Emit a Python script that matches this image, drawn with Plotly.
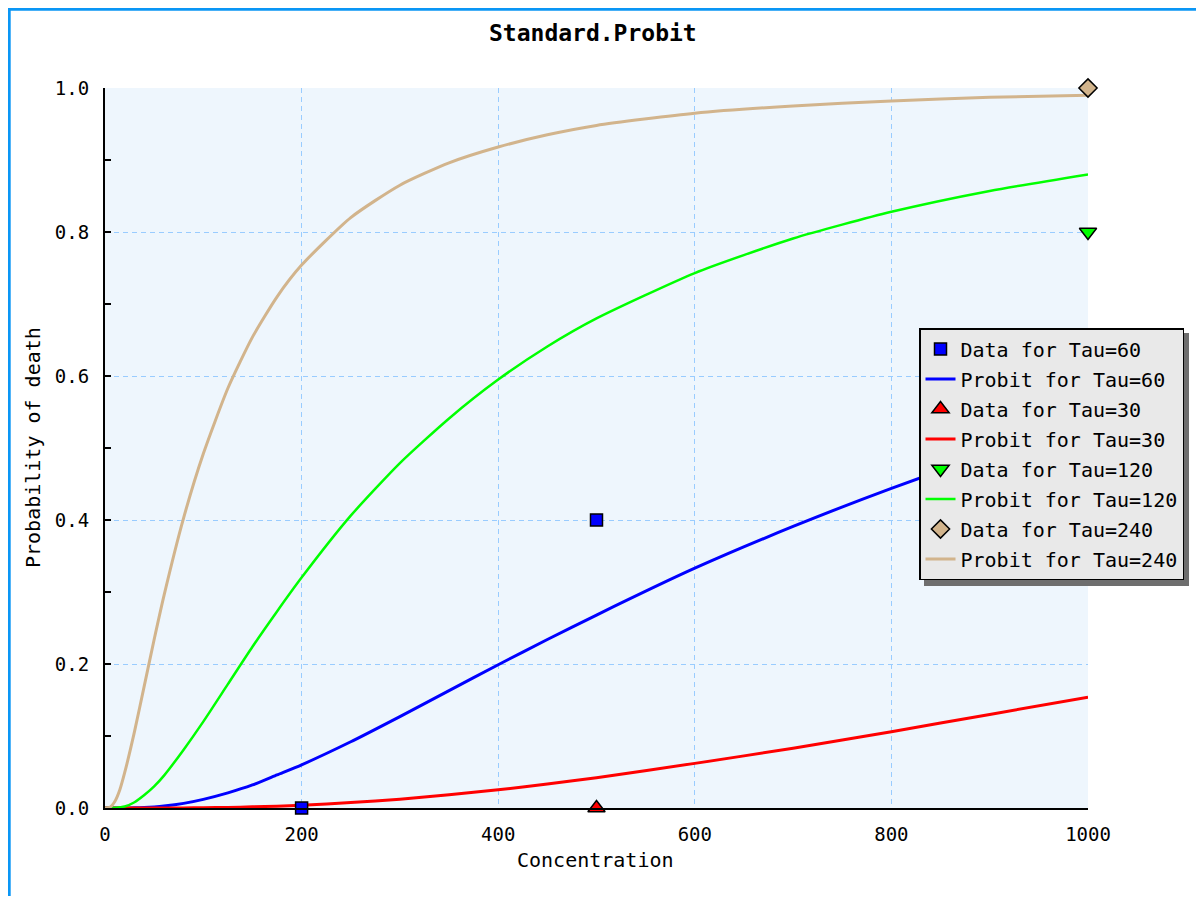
import plotly.graph_objects as go

# ---------------- data ----------------
concentration = [0, 5, 10, 15, 20, 30, 40, 50, 60, 80, 100, 125, 150, 175, 200,
                 250, 300, 350, 400, 450, 500, 600, 700, 800, 900, 1000]

probit_tau60 = [0, 0, 0, 0, 0, 0.0002, 0.0007, 0.0015, 0.0027, 0.0064, 0.012, 0.021,
                0.032, 0.046, 0.060, 0.092, 0.127, 0.163, 0.199, 0.234, 0.268, 0.333,
                0.391, 0.444, 0.492, 0.535]
probit_tau30 = [0, 0, 0, 0, 0, 0, 0, 0, 0, 0.0001, 0.0004, 0.0008, 0.0016, 0.0026,
                0.0039, 0.0075, 0.0123, 0.0183, 0.0253, 0.0333, 0.042, 0.062, 0.083,
                0.106, 0.130, 0.154]
probit_tau120 = [0, 0, 0.0002, 0.001, 0.002, 0.008, 0.018, 0.030, 0.045, 0.081, 0.120,
                 0.172, 0.224, 0.273, 0.320, 0.406, 0.479, 0.541, 0.595, 0.641, 0.680,
                 0.743, 0.791, 0.828, 0.857, 0.880]
probit_tau240 = [0, 0.001, 0.009, 0.025, 0.049, 0.106, 0.170, 0.234, 0.295, 0.403,
                 0.492, 0.583, 0.654, 0.710, 0.754, 0.820, 0.865, 0.896, 0.918, 0.935,
                 0.948, 0.965, 0.975, 0.982, 0.987, 0.990]

data_tau60_x = [200, 500]
data_tau60_y = [0.0, 0.4]
data_tau30_x = [500]
data_tau30_y = [0.0]
data_tau120_x = [1000]
data_tau120_y = [0.8]
data_tau240_x = [1000]
data_tau240_y = [1.0]

title_text = "Standard.Probit"
x_title = "Concentration"
y_title = "Probability of death"

# ---------------- styling ----------------
FONT = "DejaVu Sans Mono"
FS = 20
BLUE, RED, GREEN, TAN = "#0000ff", "#ff0000", "#00ff00", "#d2b48c"

W, H = 1188, 888          # page has an 8px body margin
L, R, T, B = 97, 108, 80, 88
PW, PH = W - L - R, H - T - B


def px(fx):
    return (fx - L) / PW


def py(fy):
    return (H - B - fy) / PH


fig = go.Figure()

series = [
    ("Tau=60", data_tau60_x, data_tau60_y, "square", 12, probit_tau60, BLUE, 3),
    ("Tau=30", data_tau30_x, data_tau30_y, "triangle-up", 15, probit_tau30, RED, 3),
    ("Tau=120", data_tau120_x, data_tau120_y, "triangle-down", 15, probit_tau120, GREEN, 2.5),
    ("Tau=240", data_tau240_x, data_tau240_y, "diamond", 14, probit_tau240, TAN, 3),
]

for i, (name, dx, dy, sym, size, curve, col, lw) in enumerate(series):
    fig.add_trace(go.Scatter(
        x=concentration, y=curve, mode="lines", name="Probit for " + name,
        line=dict(color=col, width=lw, shape="spline", smoothing=0.6),
        legendgroup=f"g{2 * i + 2}", legendrank=2 * i + 2, showlegend=True,
    ))
for i, (name, dx, dy, sym, size, curve, col, lw) in enumerate(series):
    fig.add_trace(go.Scatter(
        x=dx, y=dy, mode="markers", name="Data for " + name,
        marker=dict(symbol=sym, size=size, color=col, line=dict(color="black", width=1.5)),
        cliponaxis=False, legendgroup=f"g{2 * i + 1}", legendrank=2 * i + 1,
    ))

LEG_L, LEG_T, LEG_W, LEG_H = 911, 320, 266, 253

shapes = [
    # legend shadow
    dict(type="rect", xref="paper", yref="paper",
         x0=px(LEG_L + 5), x1=px(LEG_L + LEG_W + 4),
         y0=py(LEG_T + LEG_H + 5), y1=py(LEG_T + 5),
         fillcolor="#6e6e6e", line=dict(width=0), layer="above"),
    # blue frame (top and left)
    dict(type="line", xref="paper", yref="paper",
         x0=px(1.2), x1=px(1.2), y0=py(0), y1=py(H + 5),
         line=dict(color="#0a96f5", width=3), layer="above"),
    dict(type="line", xref="paper", yref="paper",
         x0=px(0), x1=px(W + 5), y0=py(1.2), y1=py(1.2),
         line=dict(color="#0a96f5", width=3), layer="above"),
]

annotations = [
    dict(text="<b>" + title_text + "</b>", xref="paper", yref="paper",
         x=px(585), y=py(25), showarrow=False, xanchor="center", yanchor="middle",
         font=dict(family=FONT, size=23, color="black")),
    dict(text=x_title, xref="paper", yref="paper", x=px(587), y=py(852),
         showarrow=False, xanchor="center", yanchor="middle",
         font=dict(family=FONT, size=FS, color="black")),
    dict(text=y_title, xref="paper", yref="paper", x=px(25), y=py(440),
         showarrow=False, xanchor="center", yanchor="middle", textangle=-90,
         font=dict(family=FONT, size=FS, color="black")),
]

grid = dict(showgrid=True, gridcolor="#99ccff", gridwidth=1, griddash="5px,4px")

fig.update_layout(
    width=W, height=H,
    margin=dict(l=L, r=R, t=T, b=B),
    paper_bgcolor="white", plot_bgcolor="#eef6fd",
    font=dict(family=FONT, size=FS, color="black"),
    showlegend=True,
    legend=dict(x=px(LEG_L), y=py(LEG_T), xanchor="left", yanchor="top",
                bgcolor="#e9e9e9", bordercolor="black", borderwidth=1.5,
                font=dict(family=FONT, size=FS, color="black"),
                tracegroupgap=1, itemwidth=30, traceorder="grouped"),
    shapes=shapes, annotations=annotations,
    xaxis=dict(range=[0, 1000], tickmode="array", tickvals=[0, 200, 400, 600, 800, 1000],
               ticktext=["0", "200", "400", "600", "800", "1000"],
               showline=True, linecolor="black", linewidth=2, ticks="",
               zeroline=False, ticklabelstandoff=8,
               tickfont=dict(family=FONT, size=19, color="black"), **grid),
    yaxis=dict(range=[0, 1], tickmode="array", tickvals=[0, 0.2, 0.4, 0.6, 0.8, 1.0],
               ticktext=["0.0", "0.2", "0.4", "0.6", "0.8", "1.0"],
               showline=True, linecolor="black", linewidth=2,
               ticks="inside", ticklen=6, tickwidth=2, tickcolor="black",
               minor=dict(tickvals=[0.1, 0.3, 0.5, 0.7, 0.9], ticks="inside",
                          ticklen=6, tickwidth=2, tickcolor="black", showgrid=False),
               zeroline=False, ticklabelstandoff=10,
               tickfont=dict(family=FONT, size=19, color="black"), **grid),
)

fig.write_html("out.html")
